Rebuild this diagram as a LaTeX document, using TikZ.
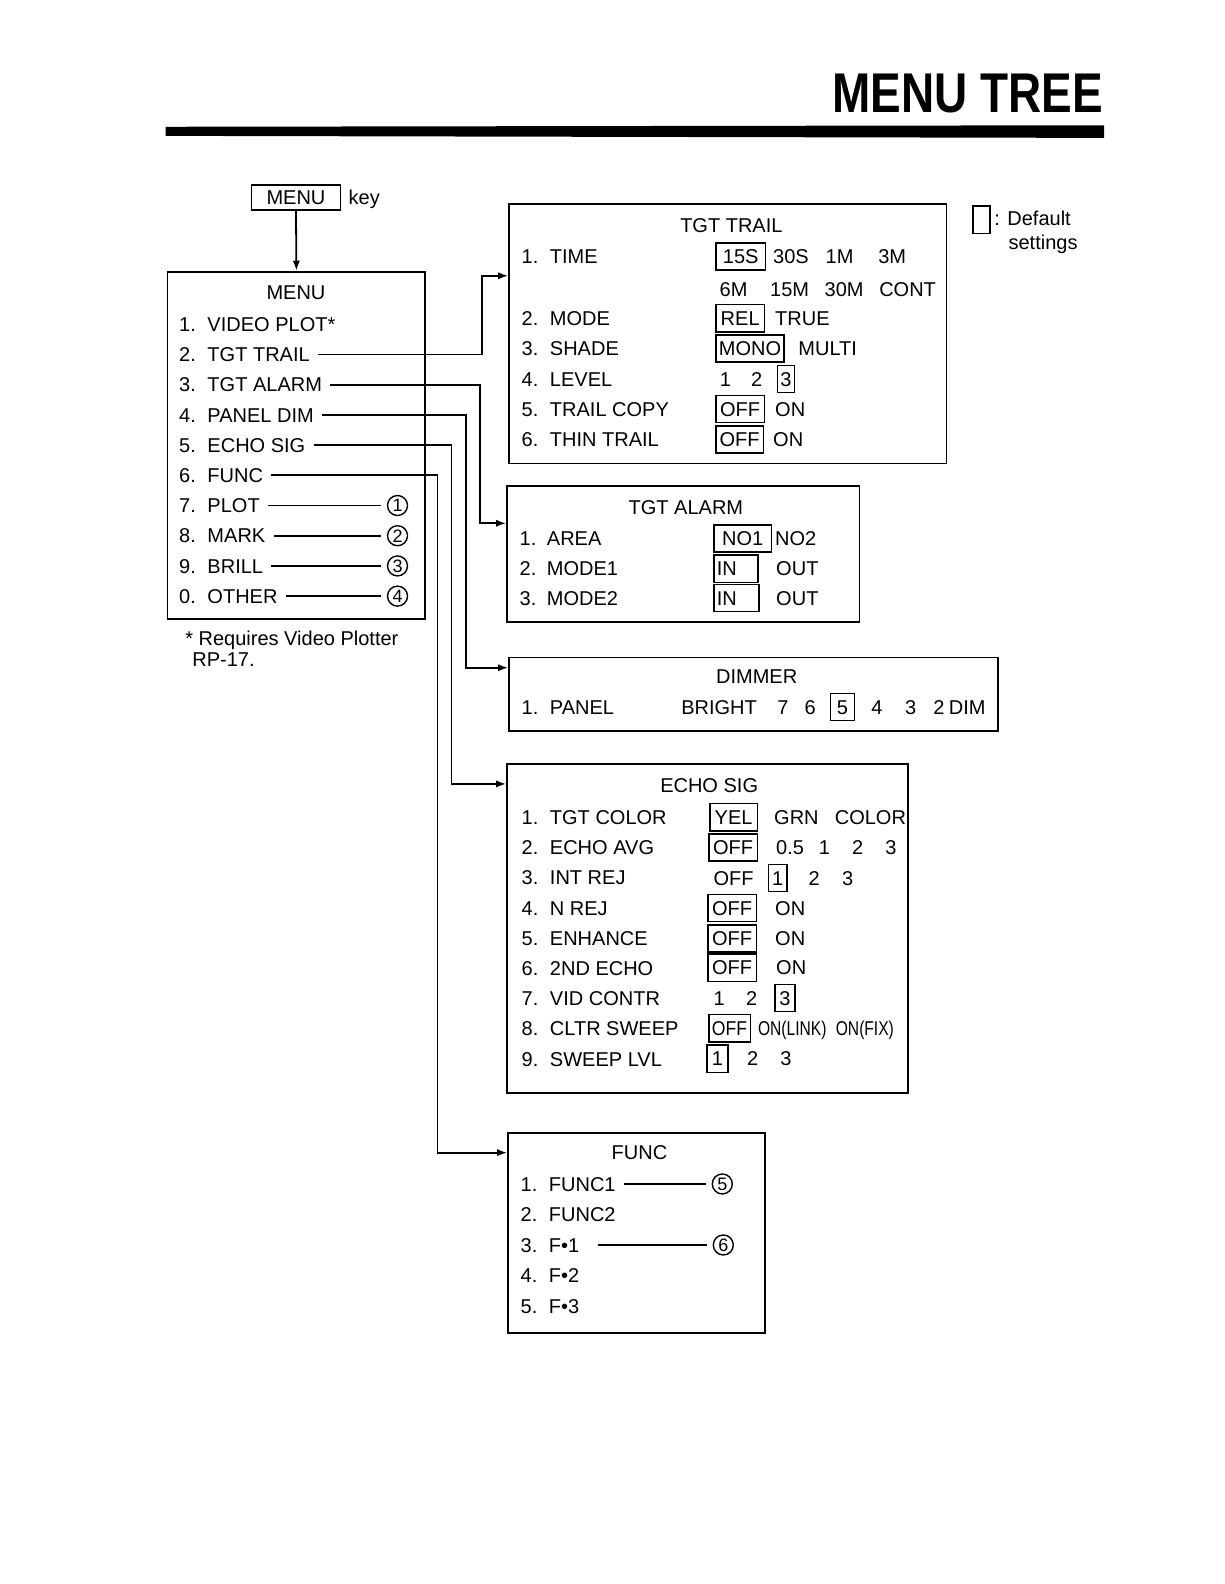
\documentclass[tikz,border=0pt]{standalone}
\usepackage{fontspec}
\setmainfont{Liberation Sans}
\usetikzlibrary{arrows.meta, positioning}
\newcommand{\pxu}{0.505pt}

\begin{document}
\begin{tikzpicture}[
  x=0.505pt, y=-0.505pt,
  font=\fontsize{10}{12}\selectfont,
  txt/.style={inner sep=0pt, text height=7.2pt, text depth=0pt},
  dflt/.style={draw, line width=0.7pt, inner xsep=1.5pt, inner ysep=3.2pt,
               text height=7.2pt, text depth=0pt},
  panel/.style={draw, line width=0.9pt, anchor=north west, inner sep=0pt},
  circnum/.style={draw, circle, line width=0.7pt, inner sep=0pt,
                  minimum size=10pt, font=\fontsize{9}{9}\selectfont},
  arr/.style={-{Latex[length=5pt,width=3.6pt]}, line width=0.9pt},
  lnk/.style={line width=0.9pt}
]
  \useasboundingbox (0,0) rectangle (1212,1568);

  % heading
  \node[anchor=base east, inner sep=0pt, font=\bfseries\fontsize{28}{30}\selectfont]
    (ttl) at (1092,111) {\scalebox{0.82}[1]{MENU TREE}};
  \fill (164,125.5) -- (1093,124) -- (1093,136.5) -- (164,134.5) -- cycle;

  % MENU key and main menu
  \node[draw, line width=0.8pt, minimum width=88*\pxu, minimum height=25*\pxu,
        inner sep=0pt, text height=7.2pt, text depth=0pt] (mkey) at (293,195.5) {MENU};
  \node[txt, right=3.5pt of mkey] (mkeytxt) {key};

  \node[panel, minimum width=255*\pxu, minimum height=344*\pxu] (menu) at (165,268) {};
  \node[txt] (menuttl) at (293,289) {MENU};
  \foreach \n/\t [count=\i] in {1/VIDEO PLOT*, 2/TGT TRAIL, 3/TGT ALARM, 4/PANEL DIM,
      5/ECHO SIG, 6/FUNC, 7/PLOT, 8/MARK, 9/BRILL, 0/OTHER} {
    \node[txt, anchor=west] (mn\i) at (177,{291.1+29.9*\i}) {\n.};
    \node[txt, anchor=west] (mi\i) at (205,{291.1+29.9*\i}) {\t};
  }
  \foreach \i/\c in {7/1, 8/2, 9/3, 10/4} {
    \node[circnum] (c\c) at (393.5,{291.1+29.9*\i}) {\c};
    \draw[lnk, shorten <=4pt, shorten >=3pt] (mi\i.east) -- (c\c);
  }
  \draw[arr] (mkey.south) -- (menu.north);

  \node[txt, anchor=west] (note1) at (183,632) {* Requires Video Plotter};
  \node[txt, anchor=west] (note2) at (190,653) {RP-17.};

  % legend
  \node[draw, line width=0.7pt, minimum width=17*\pxu, minimum height=27*\pxu,
        inner sep=0pt] (legbox) at (971.5,217.5) {};
  \node[txt, anchor=west] (legdef) at (984,216) {: Default};
  \node[txt, anchor=west] (legset) at (998,240) {settings};

  % TGT TRAIL
  \node[panel, minimum width=433*\pxu, minimum height=257*\pxu] (trail) at (503,201) {};
  \node[txt] (trailttl) at (724,223) {TGT TRAIL};
  \foreach \n/\t/\y in {1/TIME/254, 2/MODE/315, 3/SHADE/345, 4/LEVEL/375,
      5/TRAIL COPY/405, 6/THIN TRAIL/435} {
    \node[txt, anchor=west] (tn\n) at (516,\y) {\n.};
    \node[txt, anchor=west] (ti\n) at (544,\y) {\t};
  }
  \node[dflt, anchor=west, minimum width=49*\pxu] (t1a) at (708,254) {15S};
  \node[txt, anchor=west] (t1b) at (765,254) {30S};
  \node[txt, anchor=west] (t1c) at (817,254) {1M};
  \node[txt, anchor=west] (t1d) at (869,254) {3M};
  \node[txt, anchor=west] (t1e) at (712,286) {6M};
  \node[txt, anchor=west] (t1f) at (762,286) {15M};
  \node[txt, anchor=west] (t1g) at (816,286) {30M};
  \node[txt, anchor=west] (t1h) at (870,286) {CONT};
  \node[dflt, anchor=west, minimum width=48*\pxu] (t2a) at (708,315) {REL};
  \node[txt, anchor=west] (t2b) at (767,315) {TRUE};
  \node[dflt, anchor=west, minimum width=67*\pxu] (t3a) at (708,345) {MONO};
  \node[txt, anchor=west] (t3b) at (790,345) {MULTI};
  \node[txt] (t4a) at (718,375) {1};
  \node[txt] (t4b) at (749,375) {2};
  \node[dflt, minimum width=17*\pxu] (t4c) at (778,375) {3};
  \node[dflt, anchor=west, minimum width=48*\pxu] (t5a) at (708,405) {OFF};
  \node[txt, anchor=west] (t5b) at (767,405) {ON};
  \node[dflt, anchor=west, minimum width=47*\pxu] (t6a) at (708,435) {OFF};
  \node[txt, anchor=west] (t6b) at (765,435) {ON};

  % TGT ALARM
  \node[panel, minimum width=349*\pxu, minimum height=135*\pxu] (alarm) at (501,480) {};
  \node[txt] (alarmttl) at (679,502) {TGT ALARM};
  \foreach \n/\t/\y in {1/AREA/533, 2/MODE1/563, 3/MODE2/592} {
    \node[txt, anchor=west] (an\n) at (514,\y) {\n.};
    \node[txt, anchor=west] (ai\n) at (541,\y) {\t};
  }
  \node[dflt, anchor=west, minimum width=57*\pxu] (a1a) at (706,533) {NO1};
  \node[txt, anchor=west] (a1b) at (767,533) {NO2};
  \node[dflt, anchor=west, text width=19pt, align=left] (a2a) at (706,563) {IN};
  \node[txt, anchor=west] (a2b) at (768,563) {OUT};
  \node[dflt, anchor=west, text width=19.5pt, align=left] (a3a) at (706,592) {IN};
  \node[txt, anchor=west] (a3b) at (768,592) {OUT};

  % DIMMER
  \node[panel, minimum width=484*\pxu, minimum height=73*\pxu] (dimmer) at (503,650) {};
  \node[txt] (dimttl) at (749,669) {DIMMER};
  \node[txt, anchor=west] (dn1) at (516,700) {1.};
  \node[txt, anchor=west] (di1) at (544,700) {PANEL};
  \node[txt, anchor=west] (dbr) at (674,700) {BRIGHT};
  \node[txt] (d7) at (775,700) {7};
  \node[txt] (d6) at (802,700) {6};
  \node[dflt, minimum width=24*\pxu] (d5) at (834,700) {5};
  \node[txt] (d4) at (868,700) {4};
  \node[txt] (d3) at (901.5,700) {3};
  \node[txt] (d2) at (929.5,700) {2};
  \node[txt, anchor=west] (ddim) at (939,700) {DIM};

  % ECHO SIG
  \node[panel, minimum width=397*\pxu, minimum height=326*\pxu] (echo) at (501,755) {};
  \node[txt] (echottl) at (702,777) {ECHO SIG};
  \foreach \t [count=\i] in {TGT COLOR, ECHO AVG, INT REJ, N REJ, ENHANCE,
      2ND ECHO, VID CONTR, CLTR SWEEP, SWEEP LVL} {
    \node[txt, anchor=west] (en\i) at (516,{779.1+29.9*\i}) {\i.};
    \node[txt, anchor=west] (ei\i) at (544,{779.1+29.9*\i}) {\t};
  }
  \node[dflt, anchor=west, minimum width=47*\pxu] (e1a) at (702,809) {YEL};
  \node[txt, anchor=west] (e1b) at (766,809) {GRN};
  \node[txt, anchor=west] (e1c) at (826,809) {COLOR};
  \node[dflt, anchor=west, minimum width=48*\pxu] (e2a) at (701,839) {OFF};
  \node[txt, anchor=west] (e2b) at (768,839) {0.5};
  \node[txt] (e2c) at (816,839) {1};
  \node[txt] (e2d) at (849,839) {2};
  \node[txt] (e2e) at (882,839) {3};
  \node[txt, anchor=west] (e3a) at (706,869) {OFF};
  \node[dflt, anchor=west, minimum width=18.5*\pxu] (e3b) at (760,869) {1};
  \node[txt] (e3c) at (806,869) {2};
  \node[txt] (e3d) at (839,869) {3};
  \node[dflt, anchor=west, minimum width=48*\pxu] (e4a) at (700,899) {OFF};
  \node[txt, anchor=west] (e4b) at (767,899) {ON};
  \node[dflt, anchor=west, minimum width=48*\pxu] (e5a) at (700,929) {OFF};
  \node[txt, anchor=west] (e5b) at (767,929) {ON};
  \node[dflt, anchor=west, minimum width=48*\pxu] (e6a) at (700,958) {OFF};
  \node[txt, anchor=west] (e6b) at (768,958) {ON};
  \node[txt] (e7a) at (712,988) {1};
  \node[txt] (e7b) at (744,988) {2};
  \node[dflt, minimum width=20*\pxu] (e7c) at (777,988) {3};
  \node[dflt, anchor=west, minimum width=41*\pxu] (e8a) at (701,1018) {\scalebox{0.88}[1]{OFF}};
  \node[txt, anchor=west] (e8b) at (750,1018) {\scalebox{0.78}[1]{ON(LINK)}};
  \node[txt, anchor=west] (e8c) at (827,1018) {\scalebox{0.78}[1]{ON(FIX)}};
  \node[dflt, anchor=west, minimum width=21*\pxu] (e9a) at (699,1048) {1};
  \node[txt] (e9b) at (745,1048) {2};
  \node[txt] (e9c) at (778,1048) {3};

  % FUNC
  \node[panel, minimum width=254*\pxu, minimum height=198*\pxu] (func) at (502,1121) {};
  \node[txt] (functtl) at (633,1141) {FUNC};
  \foreach \t [count=\i] in {FUNC1, FUNC2, F\textbullet1, F\textbullet2, F\textbullet3} {
    \node[txt, anchor=west] (fn\i) at (515,{1141.8+30.2*\i}) {\i.};
    \node[txt, anchor=west] (fi\i) at (543,{1141.8+30.2*\i}) {\t};
  }
  \node[circnum] (c5) at (715,1172) {5};
  \node[circnum] (c6) at (716,1232.4) {6};
  \draw[lnk, shorten <=4pt, shorten >=3pt] (fi1.east) -- (c5);
  \draw[lnk, shorten <=9pt, shorten >=3pt] (fi3.east) -- (c6);

  % menu connectors
  \coordinate (b2) at (477,273);
  \coordinate (b3) at (475,518);
  \coordinate (b4) at (461,661);
  \coordinate (b5) at (447,776);
  \coordinate (b6) at (433,1141);
  \draw[arr, shorten <=4pt] (mi2.east) -| (b2) -- (b2 -| trail.west);
  \draw[arr, shorten <=4pt] (mi3.east) -| (b3) -- (b3 -| alarm.west);
  \draw[arr, shorten <=4pt] (mi4.east) -| (b4) -- (b4 -| dimmer.west);
  \draw[arr, shorten <=4pt] (mi5.east) -| (b5) -- (b5 -| echo.west);
  \draw[arr, shorten <=4pt] (mi6.east) -| (b6) -- (b6 -| func.west);
\end{tikzpicture}
\end{document}
